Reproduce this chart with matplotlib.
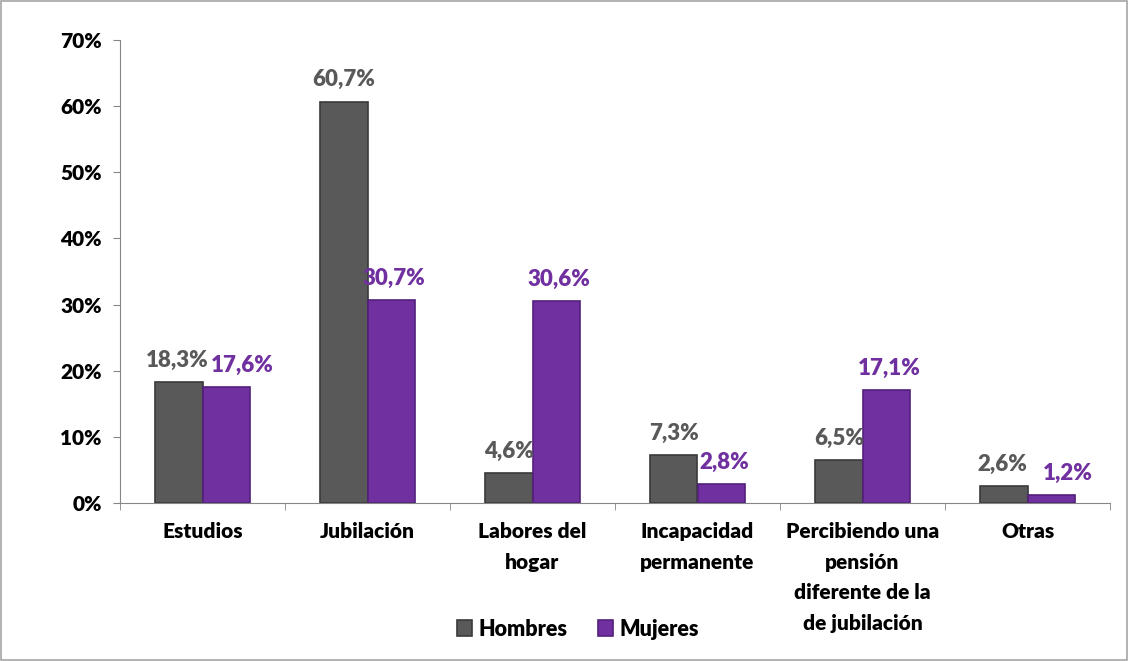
import matplotlib
matplotlib.use("Agg")
import matplotlib.pyplot as plt
import numpy as np
from matplotlib.patches import Rectangle

categories = ["Estudios", "Jubilación", "Labores del\nhogar", "Incapacidad\npermanente",
              "Percibiendo una\npensión\ndiferente de la\nde jubilación", "Otras"]
hombres = [18.3, 60.7, 4.6, 7.3, 6.5, 2.6]
mujeres = [17.6, 30.7, 30.6, 2.8, 17.1, 1.2]
series_names = ["Hombres", "Mujeres"]
yticks = [0, 10, 20, 30, 40, 50, 60, 70]

plt.rcParams['font.family'] = ['Lato', 'DejaVu Sans']
WT = "heavy"
c_h = "#595959"
c_m = "#7030A0"

fig = plt.figure(figsize=(11.29, 6.61), dpi=100)
fig.patches.append(Rectangle((0.001, 0.001), 0.997, 0.997, transform=fig.transFigure,
                             fill=False, edgecolor="#A6A6A6", linewidth=1.2))
ax = fig.add_axes([120/1129, 1-503/661, 990/1129, 463/661])

x = np.arange(len(categories))
w = 0.285
bh = ax.bar(x - w/2, hombres, w, color=c_h, edgecolor="#3A3A3A", linewidth=1.2, label=series_names[0])
bm = ax.bar(x + w/2, mujeres, w, color=c_m, edgecolor="#52207A", linewidth=1.2, label=series_names[1])

for i, (xi, vh, vm) in enumerate(zip(x, hombres, mujeres)):
    # nudge labels apart when two neighbouring labels sit at nearly the same height
    close = abs(vh - vm) < 3
    dxh, dxm = (-1, 12) if close else (0, 2)
    ax.annotate(f"{vh:.1f}%".replace(".", ","), (xi - w/2, vh), xytext=(dxh, 8),
                textcoords="offset points", ha="center", va="bottom",
                color=c_h, fontsize=16, fontweight=WT)
    ax.annotate(f"{vm:.1f}%".replace(".", ","), (xi + w/2, vm), xytext=(dxm, 8),
                textcoords="offset points", ha="center", va="bottom",
                color=c_m, fontsize=16, fontweight=WT)

ax.set_xlim(-0.5, len(categories) - 0.5)
ax.set_ylim(0, 70)
ax.set_yticks(yticks)
ax.set_yticklabels([f"{t}%" for t in yticks], fontsize=15, fontweight=WT)
ax.set_xticks(x)
ax.set_xticklabels(categories, fontsize=15, fontweight=WT, linespacing=1.72, va="top")
ax.set_xticks(np.arange(len(categories) + 1) - 0.5, minor=True)
ax.tick_params(axis="x", which="major", length=0, pad=14)
ax.tick_params(axis="x", which="minor", length=5, color="#868686")
ax.tick_params(axis="y", length=5, color="#868686", pad=8)
for s in ["top", "right"]:
    ax.spines[s].set_visible(False)
for s in ["left", "bottom"]:
    ax.spines[s].set_color("#868686")

leg = fig.legend(handles=[bh, bm], labels=series_names, loc="center", bbox_to_anchor=(578/1129, 1-629/661),
                 ncol=2, frameon=False, handlelength=0.7, handleheight=0.7,
                 handletextpad=0.3, columnspacing=1.4, prop={"weight": WT, "size": 15.5})

fig.savefig("out.png", dpi=100)
